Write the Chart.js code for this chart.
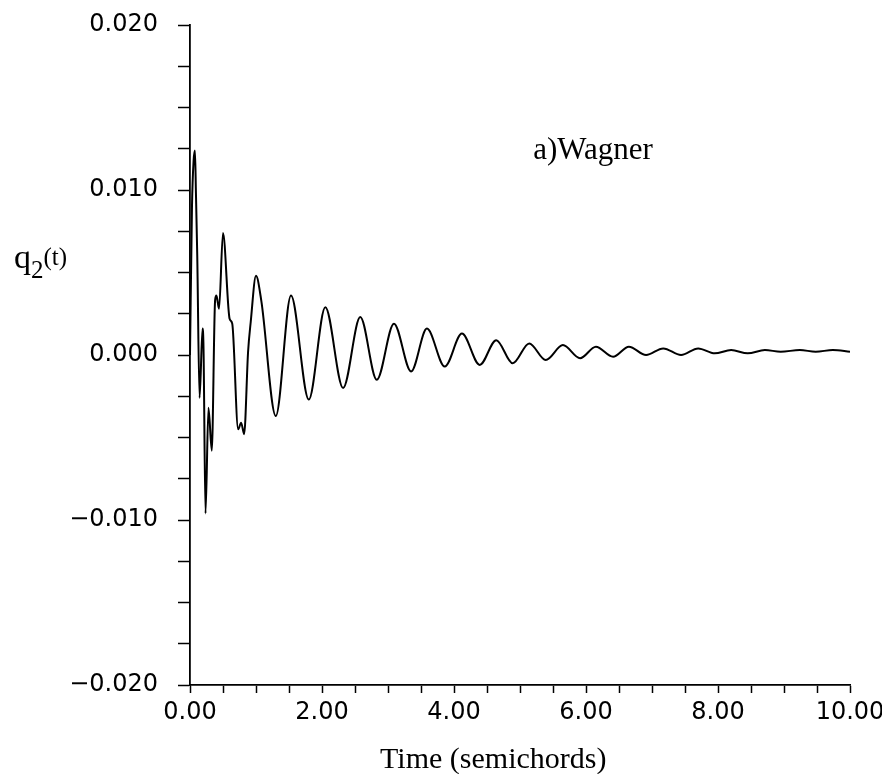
<!DOCTYPE html>
<html>
<head>
<meta charset="utf-8">
<script src="https://cdn.jsdelivr.net/npm/chart.js@4.4.0/dist/chart.umd.min.js"></script>
<style>
    html, body { margin: 0; padding: 0; background: #ffffff; }
    #wrap { width: 882px; height: 774px; }
</style>
</head>
<body>
<div id="wrap"><canvas id="chart"></canvas></div>
<script>
// time in semichords
const timeValues = [
    0.000, 0.030, 0.055, 0.075, 0.090, 0.110, 0.145, 0.190, 0.205, 0.235,
    0.280, 0.330, 0.380, 0.400, 0.440, 0.500, 0.600, 0.640, 0.730, 0.775,
    0.820, 0.880, 0.920, 1.000, 1.080, 1.300, 1.530, 1.800, 2.050, 2.320,
    2.580, 2.830, 3.090, 3.350, 3.590, 3.860, 4.120, 4.390, 4.640, 4.890,
    5.140, 5.390, 5.650, 5.910, 6.150, 6.410, 6.650, 6.910, 7.170, 7.440,
    7.700, 7.950, 8.200, 8.450, 8.710, 8.950, 9.240, 9.480, 9.740, 10.000
];
// q2(t) values
const q2Values = [
    0.0000, 0.0090, 0.0118, 0.0124, 0.0098, 0.0060, -0.0026, 0.0016, 0.0004, -0.0096,
    -0.0032, -0.0058, 0.0033, 0.0036, 0.0028, 0.0074, 0.0022, 0.0019, -0.0045, -0.0041,
    -0.0048, 0.0002, 0.0020, 0.0048, 0.0033, -0.0037, 0.0036, -0.0027, 0.0029, -0.0020,
    0.0023, -0.0015, 0.0019, -0.0010, 0.0016, -0.0007, 0.0013, -0.0006, 0.0009, -0.0005,
    0.0007, -0.0003, 0.0006, -0.0002, 0.0005, -0.0001, 0.0005, 0.0000, 0.0004, 0.0000,
    0.0004, 0.0001, 0.0003, 0.0001, 0.0003, 0.0002, 0.0003, 0.0002, 0.0003, 0.0002
];

const xTickLabels = ['0.00', '2.00', '4.00', '6.00', '8.00', '10.00'];
const yTickLabels = ['\u22120.020', '\u22120.010', '0.000', '0.010', '0.020'];
const plotLabel = 'a)Wagner';
const xTitle = 'Time (semichords)';

const tickFont = { family: 'DejaVu Sans', size: 24 };
const serif = 'Liberation Serif';

// Text that sits outside the normal scale titles
const textPlugin = {
    id: 'textPlugin',
    afterDraw(chart) {
        const ctx = chart.ctx;
        const xs = chart.scales.x;
        const ys = chart.scales.y;
        ctx.save();
        ctx.fillStyle = '#000';
        ctx.textBaseline = 'alphabetic';
        ctx.textAlign = 'left';

        // a)Wagner
        ctx.font = '31px "' + serif + '"';
        ctx.fillText(plotLabel, xs.getPixelForValue(5.2), ys.getPixelForValue(0.0119));

        // x title
        ctx.font = '30px "' + serif + '"';
        ctx.fillText(xTitle, xs.getPixelForValue(2.88), chart.height - 6);

        // y title q2(t), written horizontally
        const base = ys.getPixelForValue(0.0053);
        let x = 14;
        ctx.font = '34px "' + serif + '"';
        ctx.fillText('q', x, base);
        x += ctx.measureText('q').width;
        ctx.font = '25px "' + serif + '"';
        ctx.fillText('2', x, base + 10);
        x += ctx.measureText('2').width;
        ctx.fillText('(t)', x, base - 3);
        ctx.restore();
    }
};

const points = timeValues.map((t, i) => ({ x: t, y: q2Values[i] }));

new Chart(document.getElementById('chart'), {
    type: 'line',
    data: {
        datasets: [{
            data: points,
            borderColor: '#000',
            borderWidth: 2,
            pointRadius: 0,
            fill: false,
            cubicInterpolationMode: 'monotone'
        }]
    },
    options: {
        responsive: true,
        maintainAspectRatio: false,
        animation: false,
        layout: { padding: { top: 25, right: 32, bottom: 0, left: 0 } },
        plugins: {
            legend: { display: false },
            tooltip: { enabled: false }
        },
        scales: {
            x: {
                type: 'linear',
                min: 0,
                max: 10,
                afterFit: (scale) => {
                    scale.height = 89;
                    scale.paddingLeft = 0;
                    scale.paddingRight = 0;
                },
                border: { display: true, color: '#000', width: 1.8 },
                grid: {
                    drawOnChartArea: false,
                    drawTicks: true,
                    tickLength: 8,
                    color: '#000',
                    tickWidth: 1.5
                },
                ticks: {
                    stepSize: 0.5,
                    autoSkip: false,
                    maxRotation: 0,
                    padding: 5,
                    color: '#000',
                    font: tickFont,
                    callback: (v) => {
                        const k = v / 2;
                        if (Math.abs(k - Math.round(k)) < 1e-6) return xTickLabels[Math.round(k)];
                        return '';
                    }
                }
            },
            y: {
                type: 'linear',
                min: -0.02,
                max: 0.02,
                afterFit: (scale) => {
                    scale.width = 190;
                    scale.paddingTop = 0;
                    scale.paddingBottom = 0;
                },
                border: { display: true, color: '#000', width: 1.8 },
                grid: {
                    drawOnChartArea: false,
                    drawTicks: true,
                    tickLength: 12,
                    color: '#000',
                    tickWidth: 1.5
                },
                ticks: {
                    stepSize: 0.0025,
                    autoSkip: false,
                    padding: 20,
                    color: '#000',
                    font: tickFont,
                    callback: (v) => {
                        const k = v / 0.01;
                        if (Math.abs(k - Math.round(k)) < 1e-6) return yTickLabels[Math.round(k) + 2];
                        return '';
                    }
                }
            }
        }
    },
    plugins: [textPlugin]
});
</script>
</body>
</html>
